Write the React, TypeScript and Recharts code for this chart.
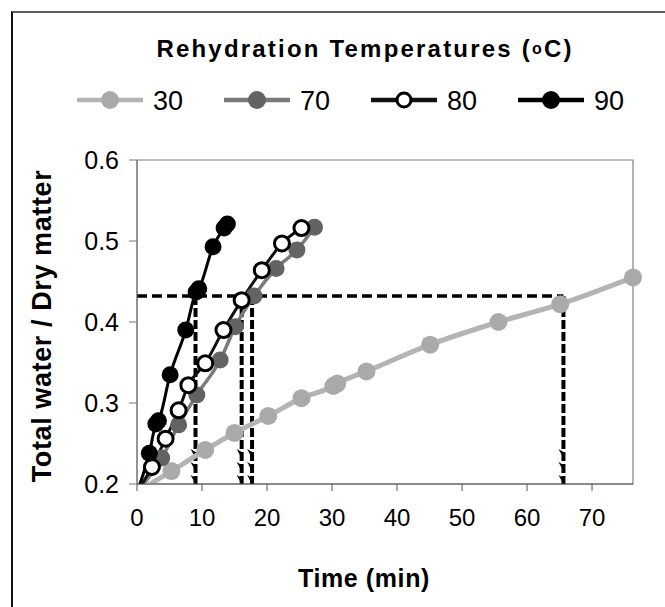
import React from 'react';
import { LineChart, Line, XAxis, YAxis, ReferenceLine, ReferenceArea, Legend } from 'recharts';

const FONT = '"Liberation Sans", Arial, sans-serif';

// Time (min) and total water / dry matter for each rehydration temperature
const t30 = [0, 5.3, 10.5, 15.0, 20.2, 25.3, 30.2, 30.8, 35.3, 45.1, 55.6, 65.1, 76.3];
const w30 = [0.19, 0.216, 0.242, 0.263, 0.284, 0.306, 0.321, 0.324, 0.339, 0.372, 0.4, 0.422, 0.455];

const t70 = [0, 3.8, 6.4, 9.2, 12.8, 15.1, 18.0, 21.4, 24.6, 27.3];
const w70 = [0.19, 0.232, 0.273, 0.31, 0.353, 0.394, 0.432, 0.466, 0.489, 0.517];

const t80 = [0, 2.3, 4.4, 6.4, 7.9, 10.5, 13.3, 16.1, 19.2, 22.3, 25.3];
const w80 = [0.19, 0.221, 0.256, 0.291, 0.322, 0.349, 0.39, 0.427, 0.464, 0.497, 0.516];

const t90 = [0, 1.9, 2.9, 3.3, 5.1, 7.5, 9.1, 9.5, 11.7, 13.4, 13.9];
const w90 = [0.19, 0.238, 0.274, 0.278, 0.335, 0.39, 0.437, 0.441, 0.493, 0.516, 0.521];

// Reference level and the times where each curve reaches it
const levelW = 0.432;
const dropTimes = [9.0, 16.1, 17.7, 65.6];

const xTicks = [0, 10, 20, 30, 40, 50, 60, 70];
const yTicks = [0.2, 0.3, 0.4, 0.5, 0.6];
const xMax = 76.3;

const toRows = (t: number[], w: number[]) => t.map((x, i) => ({ x, y: w[i] }));

const series = [
  { name: '30', data: toRows(t30, w30), line: '#b4b4b4', lw: 5, fill: '#aaaaaa', stroke: '#aaaaaa', r: 9, sw: 0 },
  { name: '70', data: toRows(t70, w70), line: '#7a7a7a', lw: 3.5, fill: '#636363', stroke: '#636363', r: 8.5, sw: 0 },
  { name: '80', data: toRows(t80, w80), line: '#111111', lw: 3, fill: '#ffffff', stroke: '#000000', r: 7.5, sw: 3 },
  { name: '90', data: toRows(t90, w90), line: '#000000', lw: 3, fill: '#000000', stroke: '#000000', r: 8.5, sw: 0 },
];

const makeDot = (s: any) => (props: any) => {
  const { cx, cy, index } = props;
  const k = `${s.name}-${index}`;
  if (index === 0 || cx == null || cy == null) return <g key={k} />;
  return <circle key={k} cx={cx} cy={cy} r={s.r} fill={s.fill} stroke={s.stroke} strokeWidth={s.sw} />;
};

const dropShape = (p: any) => {
  const x = p.x1;
  const top = Math.min(p.y1, p.y2);
  const bottom = Math.max(p.y1, p.y2);
  const barbs = [];
  for (let k = 0; k < 3; k++) {
    const by = bottom - k * 13;
    barbs.push(<path key={k} d={`M${x - 5},${by - 9} L${x},${by} L${x},${by - 6} Z`} fill="#000" />);
  }
  return (
    <g>
      <line x1={x} y1={top} x2={x} y2={bottom} stroke="#000" strokeWidth={4} strokeDasharray="9 3" />
      {barbs}
    </g>
  );
};

const LegendContent = () => (
  <svg width={665} height={125} style={{ display: 'block' }}>
    <text x={365} y={57} textAnchor="middle" fontFamily={FONT} fontWeight="bold" fontSize={24} letterSpacing={2.2} fill="#000">
      Rehydration Temperatures (<tspan fontSize={16} dy={-3}>o</tspan><tspan dy={3}>C)</tspan>
    </text>
    {series.map((s, i) => {
      const x0 = 77 + i * 147;
      const cy = 100;
      return (
        <g key={s.name}>
          <line x1={x0} x2={x0 + 66} y1={cy} y2={cy} stroke={s.line} strokeWidth={4.5} />
          <circle cx={x0 + 33} cy={cy} r={s.sw ? 7 : 9} fill={s.fill} stroke={s.stroke} strokeWidth={s.sw} />
          <text x={x0 + 76} y={cy + 10} fontFamily={FONT} fontSize={27} fill="#000">{s.name}</text>
        </g>
      );
    })}
  </svg>
);

export default function App() {
  return (
    <div style={{ position: 'absolute', left: 0, top: 0, width: 665, height: 607, overflow: 'hidden', background: '#fff' }}>
      <div style={{ position: 'absolute', left: 11, top: 11, width: 700, height: 700, borderTop: '2px solid #5c5c5c', borderLeft: '2px solid #111' }} />
      <div style={{ position: 'absolute', left: 0, top: 0 }}>
        <LineChart width={665} height={607} margin={{ top: 160, right: 32, bottom: 63, left: 77 }}>
          <XAxis
            type="number"
            dataKey="x"
            domain={[0, xMax]}
            ticks={xTicks}
            height={60}
            tickSize={7}
            tickMargin={18}
            stroke="#555"
            tick={{ fill: '#000', fontSize: 24, fontFamily: FONT }}
            label={{
              content: () => (
                <text x={364} y={587} textAnchor="middle" fontFamily={FONT} fontWeight="bold" fontSize={25} letterSpacing={0.6} fill="#000">
                  Time (min)
                </text>
              ),
            }}
          />
          <YAxis
            type="number"
            domain={[0.2, 0.6]}
            allowDataOverflow
            ticks={yTicks}
            width={60}
            tickSize={8}
            tickMargin={10}
            stroke="#777"
            tickFormatter={(v: number) => v.toFixed(1)}
            tick={{ fill: '#000', fontSize: 25, fontFamily: FONT }}
            label={{
              content: () => (
                <text x={51} y={326} transform="rotate(-90 51 326)" textAnchor="middle" fontFamily={FONT} fontWeight="bold" fontSize={27} letterSpacing={0.6} fill="#000">
                  Total water / Dry matter
                </text>
              ),
            }}
          />
          <ReferenceArea x1={0} x2={xMax} y1={0.2} y2={0.6} fill="none" stroke="#808080" strokeWidth={1.2} />
          <Legend layout="horizontal" verticalAlign="middle" align="center" wrapperStyle={{ top: 0, left: 0, width: 665 }} content={LegendContent} />
          <ReferenceLine
            segment={[{ x: 0, y: levelW }, { x: dropTimes[dropTimes.length - 1], y: levelW }]}
            stroke="#000"
            strokeWidth={3.5}
            strokeDasharray="10 5"
          />
          {dropTimes.map((t) => (
            <ReferenceLine key={t} segment={[{ x: t, y: levelW }, { x: t, y: 0.2 }]} shape={dropShape} />
          ))}
          {series.map((s) => (
            <Line
              key={s.name}
              data={s.data}
              dataKey="y"
              name={s.name}
              type="monotone"
              stroke={s.line}
              strokeWidth={s.lw}
              dot={makeDot(s)}
              activeDot={false}
              isAnimationActive={false}
            />
          ))}
        </LineChart>
      </div>
    </div>
  );
}
